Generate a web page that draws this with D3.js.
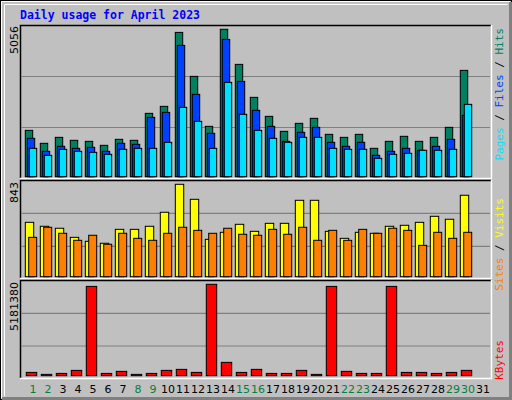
<!DOCTYPE html>
<html><head><meta charset="utf-8">
<script src="https://cdn.jsdelivr.net/npm/d3@7"></script>
<style>body{margin:0;background:#fff}</style></head><body>
<script>
const days = d3.range(1,32);
const weekend = [1,2,8,9,15,16,22,23,29,30];
const hits  = [1590,1145,1350,1248,1213,1076,1282,1248,2173,2413,4950,3441,1727,5056,3853,2722,2070,1556,1830,2002,1453,1350,1453,973,1213,1385,1213,1350,1693,3647,0];
const files = [1316,870,1042,973,1008,870,1145,1110,2036,2207,4504,2824,1488,4710,3270,2276,1727,1213,1522,1693,1179,1042,1179,733,870,973,905,1042,1282,2105,0];
const pages = [973,733,939,870,836,768,939,973,973,1179,2379,1899,973,3236,2139,1590,1316,1179,1350,1350,973,939,939,631,768,802,905,905,939,2482,0];
const visits= [496,460,442,359,323,305,432,432,460,588,843,706,341,405,478,414,487,487,697,697,414,350,405,396,460,469,496,551,524,743,0];
const sites = [359,451,396,332,378,296,396,350,332,396,451,423,396,442,387,378,432,387,451,332,423,332,432,396,442,423,286,405,350,405,0];
const kbytes= [187000,75000,130000,302000,5063000,130000,246000,75000,130000,302000,359000,187000,5181380,756000,187000,359000,130000,130000,302000,75000,5063000,246000,130000,130000,5063000,187000,187000,130000,187000,302000,0];
const maxLabels = ["5056","843","5181380"];

const W=512,H=400;
const svg=d3.select("body").append("svg").attr("width",W).attr("height",H);
svg.append("rect").attr("width",W).attr("height",H).attr("fill","#c0c0c0");
svg.append("rect").attr("x",0.5).attr("y",0.5).attr("width",W-1).attr("height",H-1).attr("fill","none").attr("stroke","#000");
svg.append("path").attr("d","M1.5,398.5V1.5H510.5").attr("stroke","#fff").attr("fill","none");
svg.append("path").attr("d","M4.5,396.5V4.5H507.5").attr("stroke","#fff").attr("fill","none");
svg.append("path").attr("d","M2,398.5H510.5V2").attr("stroke","#808080").attr("stroke-width",3).attr("fill","none");

svg.append("text").attr("x",20).attr("y",19).text("Daily usage for April 2023")
  .attr("font-family","DejaVu Sans Mono").attr("font-weight","bold").attr("font-size",11.5).attr("fill","#0000ff");

const x=d3.scaleLinear().domain([1,2]).range([25.3,40.3]);
const L=20,R=491;
function panel(y0,y1,grids){
  svg.append("rect").attr("x",L).attr("y",y0).attr("width",R-L).attr("height",y1-y0).attr("fill","#c0c0c0");
  svg.append("path").attr("d",`M${L+0.5},${y1}V${y0+0.5}H${R}`).attr("stroke","#000").attr("fill","none").attr("stroke-width",1.5);
  svg.append("path").attr("d",`M${L},${y1+0.5}H${R+0.5}V${y0}`).attr("stroke","#fff").attr("fill","none").attr("stroke-width",1.5);
  grids.forEach(g=>svg.append("line").attr("x1",L+1).attr("x2",R-1).attr("y1",g).attr("y2",g).attr("stroke","#808080").attr("stroke-width",1.2));
}
function bars(data,y,off,w,color){
  svg.append("g").selectAll("rect").data(data.map((v,i)=>({v,d:days[i]})).filter(o=>o.v>0)).join("rect")
    .attr("x",o=>x(o.d)+off).attr("width",w)
    .attr("y",o=>y(o.v)).attr("height",o=>Math.max(1,y(0)-y(o.v)))
    .attr("fill",color).attr("stroke","#000").attr("stroke-width",1);
}
function sideLabel(xp,ytop,txt){
  svg.append("text").attr("transform",`translate(${xp},${ytop}) rotate(-90)`).attr("text-anchor","end")
    .attr("font-family","DejaVu Sans").attr("font-size",11).attr("fill","#000").text(txt);
}
function rightLabel(parts,ytop){
  const t=svg.append("text").attr("transform",`translate(${503},${ytop}) rotate(-90)`).attr("text-anchor","end")
    .attr("font-family","DejaVu Sans Mono").attr("font-size",11);
  parts.forEach(p=>t.append("tspan").attr("fill",p[1]).text(p[0]));
}

panel(25,178,[76.5,127.5]);
const y1=d3.scaleLinear().domain([0,5056]).range([176.7,29.3]);
bars(hits,y1,0,7.4,"#008060");
bars(files,y1,2,7.4,"#0040ff");
bars(pages,y1,4,7.4,"#00e0ff");
sideLabel(18,26,maxLabels[0]);
rightLabel([["Pages","#00e0ff"],[" / ","#000"],["Files","#0040ff"],[" / ","#000"],["Hits","#008060"]],28);

panel(180,278,[213.3,246.3]);
const y2=d3.scaleLinear().domain([0,843]).range([276.7,184.3]);
bars(visits,y2,0,8.4,"#ffff00");
bars(sites,y2,3.4,8,"#ff8000");
sideLabel(18,182,maxLabels[1]);
rightLabel([["Sites","#ff8000"],[" / ","#000"],["Visits","#ffff00"]],198);

panel(280,378,[313.3,346]);
const y3=d3.scaleLinear().domain([0,5181380]).range([375.7,284.3]);
bars(kbytes,y3,1,10.4,"#ff0000");
sideLabel(18,282,maxLabels[2]);
rightLabel([["KBytes","#ff0000"]],340);

svg.append("g").selectAll("text").data(days).join("text")
  .attr("x",d=>x(d)+7.7).attr("y",393).attr("text-anchor","middle")
  .attr("font-family","DejaVu Sans").attr("font-size",11)
  .attr("fill",d=>weekend.includes(d)?"#008040":"#000").text(d=>d);
</script></body></html>
